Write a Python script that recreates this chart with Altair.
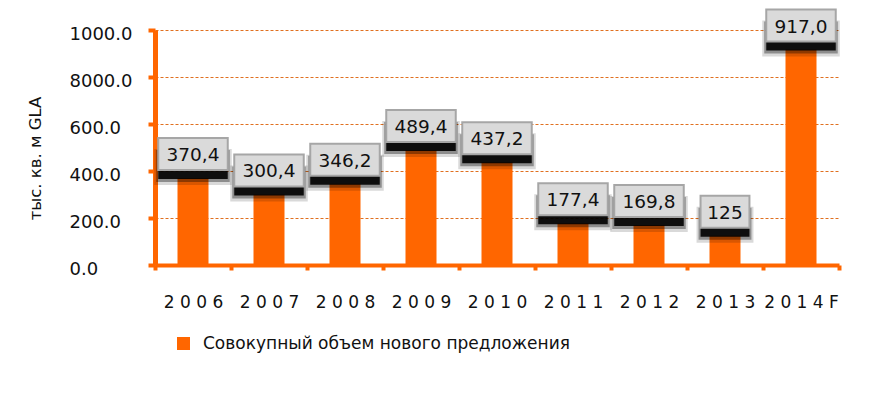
import altair as alt
import pandas as pd

years = ["2006", "2007", "2008", "2009", "2010", "2011", "2012", "2013", "2014F"]
values = [370.4, 300.4, 346.2, 489.4, 437.2, 177.4, 169.8, 125.0, 917.0]
value_labels = ["370,4", "300,4", "346,2", "489,4", "437,2", "177,4", "169,8", "125", "917,0"]
y_ticks = [0, 200, 400, 600, 800, 1000]
y_tick_labels = ["0.0", "200.0", "400.0", "600.0", "8000.0", "1000.0"]
series_name = "Совокупный объем нового предложения"
y_title = "тыс. кв. м GLA"

df = pd.DataFrame({"year": years, "value": values, "label": value_labels, "series": series_name})
df["len"] = df["label"].str.len()

ORANGE = "#ff6600"
FONT = "DejaVu Sans"

y_label_expr = "[" + ",".join(f"'{s}'" for s in y_tick_labels) + "][indexof([" + ",".join(str(v) for v in y_ticks) + "], datum.value)]"

x_enc = alt.X("year:N", sort=years,
              scale=alt.Scale(paddingInner=0, paddingOuter=0),
              axis=alt.Axis(title=None, labelAngle=0, domainColor=ORANGE, domainWidth=4,
                            tickColor=ORANGE, tickWidth=4, tickSize=5, tickBand="extent",
                            labelFont=FONT, labelFontSize=17, labelColor="#111111",
                            labelPadding=24, grid=False,
                            labelExpr="join(split(datum.label, ''), ' ')"))
y_enc = alt.Y("value:Q", scale=alt.Scale(domain=[0, 1000], nice=False),
              axis=alt.Axis(values=y_ticks, labelExpr=y_label_expr, title=y_title,
                            grid=True, gridDash=[3, 2], gridColor="#e07020", gridWidth=1,
                            domainColor=ORANGE, domainWidth=5, tickColor=ORANGE, tickWidth=4,
                            tickSize=7, labelAlign="left", labelPadding=79, labelFont=FONT,
                            labelFontSize=18, labelColor="#111111", labelBaseline="middle",
                            labelOffset=4, titleFont=FONT, titleFontSize=16.5,
                            titleFontWeight="normal", titleColor="#111111",
                            titleX=-120, titleY=128, titleAngle=-90, titleBaseline="middle",
                            titleAlign="center"))

base = alt.Chart(df)

bars = base.mark_bar(size=31).encode(
    x=x_enc, y=y_enc,
    color=alt.Color("series:N", scale=alt.Scale(range=[ORANGE]),
                    legend=alt.Legend(title=None, orient="none", legendX=20, legendY=305,
                                      symbolType="square", symbolSize=170, symbolStrokeWidth=0,
                                      labelFont=FONT, labelFontSize=17, labelColor="#111111",
                                      labelOffset=11, padding=0, labelLimit=600))
)

layers = [bars]
xy = dict(x=alt.X("year:N", sort=years), y="value:Q")
for L in sorted(df["len"].unique()):
    w = 18 + 10.3 * L
    sub = base.transform_filter(f"datum.len == {L}")
    layers.append(sub.mark_rect(width=w + 8, height=36, yOffset=-11, color="black", opacity=0.15).encode(**xy))
    layers.append(sub.mark_rect(width=w + 4, height=32, yOffset=-12, color="black", opacity=0.35).encode(**xy))
    layers.append(sub.mark_rect(width=w, height=28, yOffset=-13, color="black", opacity=0.9).encode(**xy))
    layers.append(sub.mark_rect(width=w, height=32, yOffset=-24, fill="#dadada",
                                stroke="#a6a6a6", strokeWidth=2).encode(**xy))

text = base.mark_text(font=FONT, fontSize=18.5, color="#111111", baseline="middle",
                      yOffset=-23).encode(text="label:N", **xy)
layers.append(text)

chart = alt.layer(*layers).properties(
    width=684, height=235,
    autosize=alt.AutoSizeParams(type="none"),
    padding={"left": 147, "top": 22, "right": 22, "bottom": 130},
).configure_view(stroke=None)

chart.save("out.html", embed_options={"renderer": "svg", "actions": False})
